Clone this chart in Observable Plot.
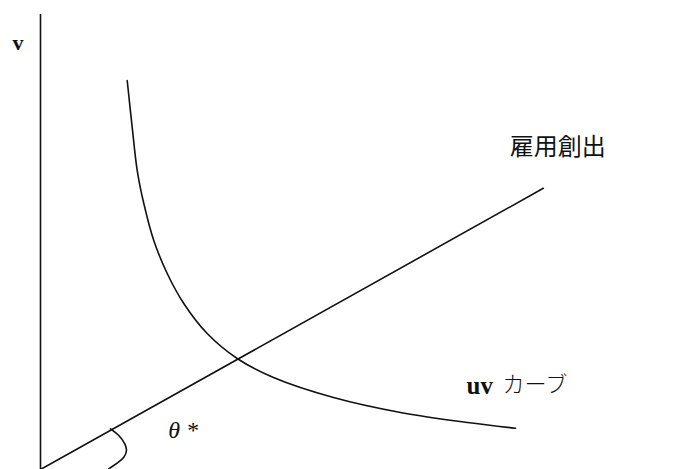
<!DOCTYPE html>
<html>
<head>
<meta charset="utf-8">
<script src="https://cdn.jsdelivr.net/npm/d3@7"></script>
<script src="https://cdn.jsdelivr.net/npm/@observablehq/plot@0.6"></script>
<style>
  body { margin: 0; background: #fff; }
  svg { display: block; }
</style>
</head>
<body>
<div id="chart"></div>
<script>
// Job creation line (雇用創出) through the origin
const jcU = [0, 83.8];
const jcV = [0, 61.8];

// uv curve (Beveridge curve)
const uvU = [14.45, 15.28, 16.12, 17.22, 18.88, 21.12, 23.88, 27.78, 32.78, 38.83, 48.83, 60.0, 71.17, 79.17];
const uvV = [85.49, 75.23, 65.71, 58.46, 50.33, 43.08, 36.48, 29.89, 24.40, 20.22, 15.82, 12.53, 10.33, 9.08];

// angle bracket marking θ*
const arcU = [11.67, 13.05, 14.05, 14.33, 13.88, 12.78, 11.38];
const arcV = [8.94, 7.47, 5.64, 4.18, 2.70, 1.38, 0.15];

// labels
const vLabel = "v";
const jcLabel = "雇用創出";
const uvLabelA = "uv";
const uvLabelB = "カーブ";
const thetaLabel = "θ *";

const jcData = jcU.map((u, i) => ({u, v: jcV[i]}));
const uvData = uvU.map((u, i) => ({u, v: uvV[i]}));
const arcData = arcU.map((u, i) => ({u, v: arcV[i]}));

const ink = "#111";

const chart = Plot.plot({
  width: 680,
  height: 469,
  marginLeft: 40,
  marginRight: 40,
  marginTop: 14,
  marginBottom: 0,
  x: {domain: [0, 100], axis: null},
  y: {domain: [0, 100], axis: null},
  marks: [
    Plot.ruleX([0], {y1: 0, y2: 100, stroke: ink, strokeWidth: 1.6}),
    Plot.line(jcData, {x: "u", y: "v", stroke: ink, strokeWidth: 1.6}),
    Plot.line(uvData, {x: "u", y: "v", stroke: ink, strokeWidth: 1.6, curve: "catmull-rom"}),
    Plot.line(arcData, {x: "u", y: "v", stroke: ink, strokeWidth: 1.6, curve: "catmull-rom"}),
    Plot.text([vLabel], {x: -3.75, y: 93.8, text: d => d, fontSize: 22, fontWeight: "bold", fontFamily: "Liberation Serif, DejaVu Serif, serif", fill: ink}),
    Plot.text([jcLabel], {x: 86.2, y: 70.8, text: d => d, fontSize: 24, fontFamily: "Noto Sans CJK JP", fill: ink}),
    Plot.text([uvLabelA], {x: 71.0, y: 18.4, text: d => d, textAnchor: "start", fontSize: 25, fontWeight: "bold", fontFamily: "Liberation Serif, DejaVu Serif, serif", fill: ink}),
    Plot.text([uvLabelB], {x: 77.0, y: 18.6, text: d => d, textAnchor: "start", fontSize: 22, fontWeight: 300, fontFamily: "Noto Sans CJK JP", fill: ink}),
    Plot.text([thetaLabel], {x: 21.3, y: 8.6, text: d => d, textAnchor: "start", fontSize: 24, fontStyle: "italic", fontFamily: "Liberation Serif, DejaVu Serif, serif", fill: ink})
  ]
});

document.getElementById("chart").appendChild(chart);
</script>
</body>
</html>
